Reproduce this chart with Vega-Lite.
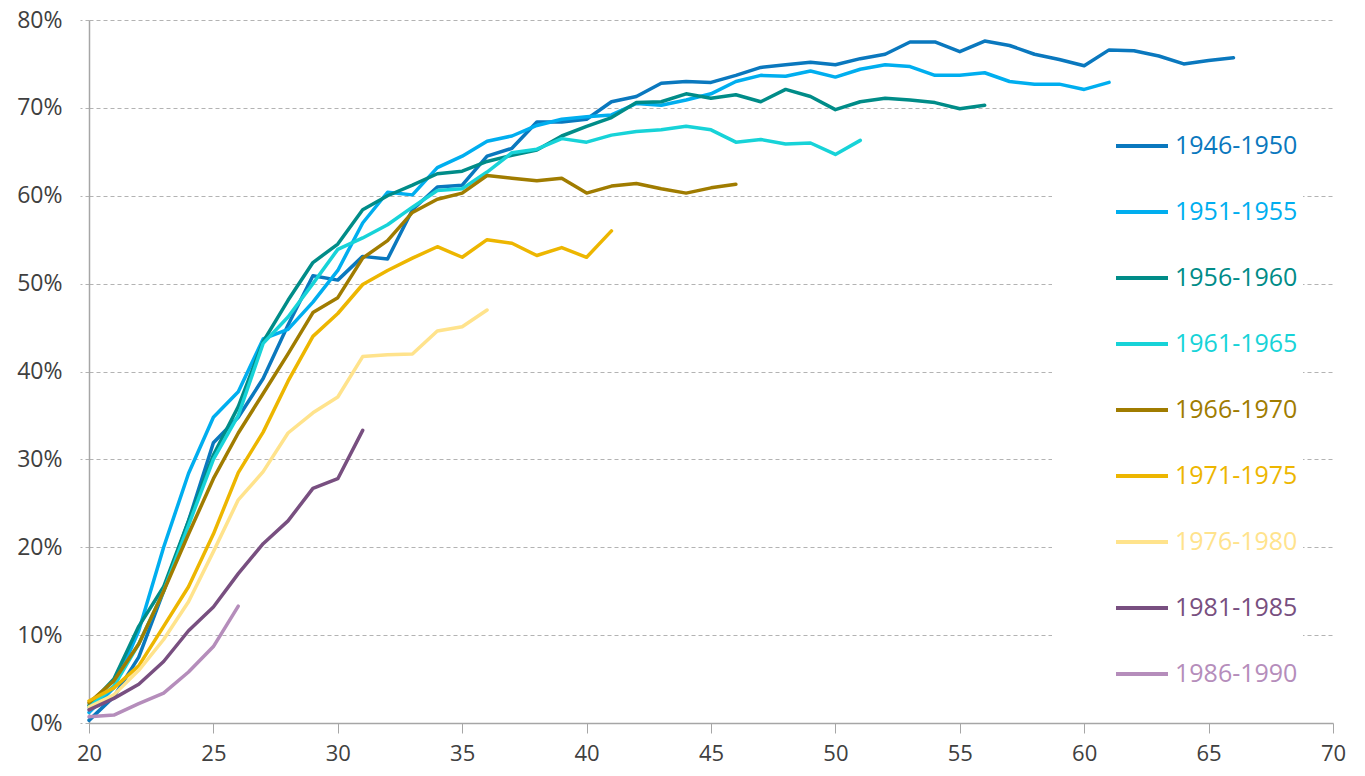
{
  "$schema": "https://vega.github.io/schema/vega-lite/v6.json",
  "width": 1244,
  "height": 703,
  "autosize": {"type": "none"},
  "padding": {"left": 89, "top": 20, "right": 32, "bottom": 53},
  "background": "white",
  "config": {"view": {"stroke": null}, "font": "Open Sans"},
  "datasets": {
    "d": [
      {"c":"1946-1950","x":20,"y":0.3},{"c":"1946-1950","x":21,"y":3.0},{"c":"1946-1950","x":22,"y":7.5},{"c":"1946-1950","x":23,"y":15.0},{"c":"1946-1950","x":24,"y":23.0},{"c":"1946-1950","x":25,"y":31.9},{"c":"1946-1950","x":26,"y":34.8},{"c":"1946-1950","x":27,"y":39.2},{"c":"1946-1950","x":28,"y":45.3},{"c":"1946-1950","x":29,"y":50.9},{"c":"1946-1950","x":30,"y":50.4},{"c":"1946-1950","x":31,"y":53.1},{"c":"1946-1950","x":32,"y":52.8},{"c":"1946-1950","x":33,"y":58.4},{"c":"1946-1950","x":34,"y":61.0},{"c":"1946-1950","x":35,"y":61.2},{"c":"1946-1950","x":36,"y":64.5},{"c":"1946-1950","x":37,"y":65.4},{"c":"1946-1950","x":38,"y":68.4},{"c":"1946-1950","x":39,"y":68.4},{"c":"1946-1950","x":40,"y":68.7},{"c":"1946-1950","x":41,"y":70.7},{"c":"1946-1950","x":42,"y":71.3},{"c":"1946-1950","x":43,"y":72.8},{"c":"1946-1950","x":44,"y":73.0},{"c":"1946-1950","x":45,"y":72.9},{"c":"1946-1950","x":46,"y":73.7},{"c":"1946-1950","x":47,"y":74.6},{"c":"1946-1950","x":48,"y":74.9},{"c":"1946-1950","x":49,"y":75.2},{"c":"1946-1950","x":50,"y":74.9},{"c":"1946-1950","x":51,"y":75.6},{"c":"1946-1950","x":52,"y":76.1},{"c":"1946-1950","x":53,"y":77.5},{"c":"1946-1950","x":54,"y":77.5},{"c":"1946-1950","x":55,"y":76.4},{"c":"1946-1950","x":56,"y":77.6},{"c":"1946-1950","x":57,"y":77.1},{"c":"1946-1950","x":58,"y":76.1},{"c":"1946-1950","x":59,"y":75.5},{"c":"1946-1950","x":60,"y":74.8},{"c":"1946-1950","x":61,"y":76.6},{"c":"1946-1950","x":62,"y":76.5},{"c":"1946-1950","x":63,"y":75.9},{"c":"1946-1950","x":64,"y":75.0},{"c":"1946-1950","x":65,"y":75.4},{"c":"1946-1950","x":66,"y":75.7},
      {"c":"1951-1955","x":20,"y":1.2},{"c":"1951-1955","x":21,"y":4.0},{"c":"1951-1955","x":22,"y":10.5},{"c":"1951-1955","x":23,"y":20.0},{"c":"1951-1955","x":24,"y":28.4},{"c":"1951-1955","x":25,"y":34.8},{"c":"1951-1955","x":26,"y":37.7},{"c":"1951-1955","x":27,"y":43.7},{"c":"1951-1955","x":28,"y":44.8},{"c":"1951-1955","x":29,"y":47.9},{"c":"1951-1955","x":30,"y":51.5},{"c":"1951-1955","x":31,"y":56.9},{"c":"1951-1955","x":32,"y":60.4},{"c":"1951-1955","x":33,"y":60.1},{"c":"1951-1955","x":34,"y":63.2},{"c":"1951-1955","x":35,"y":64.5},{"c":"1951-1955","x":36,"y":66.2},{"c":"1951-1955","x":37,"y":66.8},{"c":"1951-1955","x":38,"y":68.0},{"c":"1951-1955","x":39,"y":68.7},{"c":"1951-1955","x":40,"y":69.0},{"c":"1951-1955","x":41,"y":69.2},{"c":"1951-1955","x":42,"y":70.5},{"c":"1951-1955","x":43,"y":70.3},{"c":"1951-1955","x":44,"y":70.9},{"c":"1951-1955","x":45,"y":71.6},{"c":"1951-1955","x":46,"y":73.0},{"c":"1951-1955","x":47,"y":73.7},{"c":"1951-1955","x":48,"y":73.6},{"c":"1951-1955","x":49,"y":74.2},{"c":"1951-1955","x":50,"y":73.5},{"c":"1951-1955","x":51,"y":74.4},{"c":"1951-1955","x":52,"y":74.9},{"c":"1951-1955","x":53,"y":74.7},{"c":"1951-1955","x":54,"y":73.7},{"c":"1951-1955","x":55,"y":73.7},{"c":"1951-1955","x":56,"y":74.0},{"c":"1951-1955","x":57,"y":73.0},{"c":"1951-1955","x":58,"y":72.7},{"c":"1951-1955","x":59,"y":72.7},{"c":"1951-1955","x":60,"y":72.1},{"c":"1951-1955","x":61,"y":72.9},
      {"c":"1956-1960","x":20,"y":2.0},{"c":"1956-1960","x":21,"y":5.0},{"c":"1956-1960","x":22,"y":11.0},{"c":"1956-1960","x":23,"y":15.5},{"c":"1956-1960","x":24,"y":23.0},{"c":"1956-1960","x":25,"y":30.5},{"c":"1956-1960","x":26,"y":36.0},{"c":"1956-1960","x":27,"y":43.4},{"c":"1956-1960","x":28,"y":48.1},{"c":"1956-1960","x":29,"y":52.4},{"c":"1956-1960","x":30,"y":54.5},{"c":"1956-1960","x":31,"y":58.4},{"c":"1956-1960","x":32,"y":60.0},{"c":"1956-1960","x":33,"y":61.2},{"c":"1956-1960","x":34,"y":62.5},{"c":"1956-1960","x":35,"y":62.8},{"c":"1956-1960","x":36,"y":63.9},{"c":"1956-1960","x":37,"y":64.6},{"c":"1956-1960","x":38,"y":65.2},{"c":"1956-1960","x":39,"y":66.8},{"c":"1956-1960","x":40,"y":67.9},{"c":"1956-1960","x":41,"y":68.9},{"c":"1956-1960","x":42,"y":70.6},{"c":"1956-1960","x":43,"y":70.7},{"c":"1956-1960","x":44,"y":71.6},{"c":"1956-1960","x":45,"y":71.1},{"c":"1956-1960","x":46,"y":71.5},{"c":"1956-1960","x":47,"y":70.7},{"c":"1956-1960","x":48,"y":72.1},{"c":"1956-1960","x":49,"y":71.3},{"c":"1956-1960","x":50,"y":69.8},{"c":"1956-1960","x":51,"y":70.7},{"c":"1956-1960","x":52,"y":71.1},{"c":"1956-1960","x":53,"y":70.9},{"c":"1956-1960","x":54,"y":70.6},{"c":"1956-1960","x":55,"y":69.9},{"c":"1956-1960","x":56,"y":70.3},
      {"c":"1961-1965","x":20,"y":1.8},{"c":"1961-1965","x":21,"y":4.2},{"c":"1961-1965","x":22,"y":9.0},{"c":"1961-1965","x":23,"y":15.0},{"c":"1961-1965","x":24,"y":22.5},{"c":"1961-1965","x":25,"y":30.0},{"c":"1961-1965","x":26,"y":35.0},{"c":"1961-1965","x":27,"y":43.2},{"c":"1961-1965","x":28,"y":46.2},{"c":"1961-1965","x":29,"y":50.0},{"c":"1961-1965","x":30,"y":53.9},{"c":"1961-1965","x":31,"y":55.2},{"c":"1961-1965","x":32,"y":56.7},{"c":"1961-1965","x":33,"y":58.7},{"c":"1961-1965","x":34,"y":60.6},{"c":"1961-1965","x":35,"y":60.8},{"c":"1961-1965","x":36,"y":62.7},{"c":"1961-1965","x":37,"y":64.9},{"c":"1961-1965","x":38,"y":65.3},{"c":"1961-1965","x":39,"y":66.5},{"c":"1961-1965","x":40,"y":66.1},{"c":"1961-1965","x":41,"y":66.9},{"c":"1961-1965","x":42,"y":67.3},{"c":"1961-1965","x":43,"y":67.5},{"c":"1961-1965","x":44,"y":67.9},{"c":"1961-1965","x":45,"y":67.5},{"c":"1961-1965","x":46,"y":66.1},{"c":"1961-1965","x":47,"y":66.4},{"c":"1961-1965","x":48,"y":65.9},{"c":"1961-1965","x":49,"y":66.0},{"c":"1961-1965","x":50,"y":64.7},{"c":"1961-1965","x":51,"y":66.3},
      {"c":"1966-1970","x":20,"y":2.3},{"c":"1966-1970","x":21,"y":4.8},{"c":"1966-1970","x":22,"y":9.0},{"c":"1966-1970","x":23,"y":15.0},{"c":"1966-1970","x":24,"y":21.5},{"c":"1966-1970","x":25,"y":27.8},{"c":"1966-1970","x":26,"y":33.0},{"c":"1966-1970","x":27,"y":37.5},{"c":"1966-1970","x":28,"y":42.0},{"c":"1966-1970","x":29,"y":46.7},{"c":"1966-1970","x":30,"y":48.4},{"c":"1966-1970","x":31,"y":52.9},{"c":"1966-1970","x":32,"y":54.9},{"c":"1966-1970","x":33,"y":58.1},{"c":"1966-1970","x":34,"y":59.6},{"c":"1966-1970","x":35,"y":60.3},{"c":"1966-1970","x":36,"y":62.3},{"c":"1966-1970","x":37,"y":62.0},{"c":"1966-1970","x":38,"y":61.7},{"c":"1966-1970","x":39,"y":62.0},{"c":"1966-1970","x":40,"y":60.3},{"c":"1966-1970","x":41,"y":61.1},{"c":"1966-1970","x":42,"y":61.4},{"c":"1966-1970","x":43,"y":60.8},{"c":"1966-1970","x":44,"y":60.3},{"c":"1966-1970","x":45,"y":60.9},{"c":"1966-1970","x":46,"y":61.3},
      {"c":"1971-1975","x":20,"y":2.5},{"c":"1971-1975","x":21,"y":4.0},{"c":"1971-1975","x":22,"y":6.5},{"c":"1971-1975","x":23,"y":11.0},{"c":"1971-1975","x":24,"y":15.5},{"c":"1971-1975","x":25,"y":21.5},{"c":"1971-1975","x":26,"y":28.5},{"c":"1971-1975","x":27,"y":33.1},{"c":"1971-1975","x":28,"y":38.9},{"c":"1971-1975","x":29,"y":44.0},{"c":"1971-1975","x":30,"y":46.6},{"c":"1971-1975","x":31,"y":49.9},{"c":"1971-1975","x":32,"y":51.5},{"c":"1971-1975","x":33,"y":52.9},{"c":"1971-1975","x":34,"y":54.2},{"c":"1971-1975","x":35,"y":53.0},{"c":"1971-1975","x":36,"y":55.0},{"c":"1971-1975","x":37,"y":54.6},{"c":"1971-1975","x":38,"y":53.2},{"c":"1971-1975","x":39,"y":54.1},{"c":"1971-1975","x":40,"y":53.0},{"c":"1971-1975","x":41,"y":56.0},
      {"c":"1976-1980","x":20,"y":1.8},{"c":"1976-1980","x":21,"y":3.2},{"c":"1976-1980","x":22,"y":6.0},{"c":"1976-1980","x":23,"y":9.5},{"c":"1976-1980","x":24,"y":13.8},{"c":"1976-1980","x":25,"y":19.5},{"c":"1976-1980","x":26,"y":25.4},{"c":"1976-1980","x":27,"y":28.6},{"c":"1976-1980","x":28,"y":33.0},{"c":"1976-1980","x":29,"y":35.3},{"c":"1976-1980","x":30,"y":37.1},{"c":"1976-1980","x":31,"y":41.7},{"c":"1976-1980","x":32,"y":41.9},{"c":"1976-1980","x":33,"y":42.0},{"c":"1976-1980","x":34,"y":44.6},{"c":"1976-1980","x":35,"y":45.1},{"c":"1976-1980","x":36,"y":47.0},
      {"c":"1981-1985","x":20,"y":1.5},{"c":"1981-1985","x":21,"y":2.8},{"c":"1981-1985","x":22,"y":4.4},{"c":"1981-1985","x":23,"y":7.0},{"c":"1981-1985","x":24,"y":10.5},{"c":"1981-1985","x":25,"y":13.2},{"c":"1981-1985","x":26,"y":17.0},{"c":"1981-1985","x":27,"y":20.4},{"c":"1981-1985","x":28,"y":23.0},{"c":"1981-1985","x":29,"y":26.7},{"c":"1981-1985","x":30,"y":27.8},{"c":"1981-1985","x":31,"y":33.3},
      {"c":"1986-1990","x":20,"y":0.7},{"c":"1986-1990","x":21,"y":0.9},{"c":"1986-1990","x":22,"y":2.2},{"c":"1986-1990","x":23,"y":3.4},{"c":"1986-1990","x":24,"y":5.8},{"c":"1986-1990","x":25,"y":8.7},{"c":"1986-1990","x":26,"y":13.3}
    ]
  },
  "data": {"name": "d"},
  "mark": {"type": "line", "strokeWidth": 3.5, "strokeJoin": "round", "strokeCap": "round"},
  "encoding": {
    "x": {
      "field": "x", "type": "quantitative",
      "scale": {"domain": [20, 70], "nice": false, "zero": false},
      "axis": {
        "values": [20, 25, 30, 35, 40, 45, 50, 55, 60, 65, 70],
        "title": null, "grid": false,
        "domainColor": "#a6a6a6", "domainWidth": 1.5,
        "tickColor": "#a6a6a6", "tickSize": 10, "tickWidth": 1,
        "labelFontSize": 22, "labelColor": "#404040", "labelPadding": 10,
        "labelFlush": false, "labelFont": "Open Sans"
      }
    },
    "y": {
      "field": "y", "type": "quantitative",
      "scale": {"domain": [0, 80], "nice": false},
      "axis": {
        "values": [0, 10, 20, 30, 40, 50, 60, 70, 80],
        "labelExpr": "datum.value + '%'",
        "title": null, "grid": true,
        "gridColor": "#b3b3b3", "gridDash": [4, 3], "gridWidth": 1,
        "tickColor": "#b3b3b3", "tickDash": [4, 3], "tickSize": 9,
        "domainColor": "#a6a6a6", "domainWidth": 1.5,
        "labelFontSize": 23, "labelColor": "#404040", "labelPadding": 18,
        "labelFont": "Open Sans"
      }
    },
    "color": {
      "field": "c", "type": "nominal",
      "scale": {
        "domain": ["1946-1950", "1951-1955", "1956-1960", "1961-1965", "1966-1970", "1971-1975", "1976-1980", "1981-1985", "1986-1990"],
        "range": ["#0A78BE", "#00AEEF", "#008C88", "#17D3D8", "#A07C00", "#EDB600", "#FFE38C", "#784F80", "#B58DBB"]
      },
      "legend": {
        "orient": "none", "legendX": 963, "legendY": 93,
        "title": null,
        "symbolType": "stroke", "symbolStrokeWidth": 4, "symbolSize": 2704,
        "labelFontSize": 25, "labelFont": "Open Sans", "labelOffset": 5,
        "rowPadding": 25, "padding": 5, "symbolOffset": 57,
        "fillColor": "white",
        "labelLimit": 300,
        "encode": {"labels": {"update": {"fill": {"scale": "color", "field": "value"}}}}
      }
    }
  }
}
